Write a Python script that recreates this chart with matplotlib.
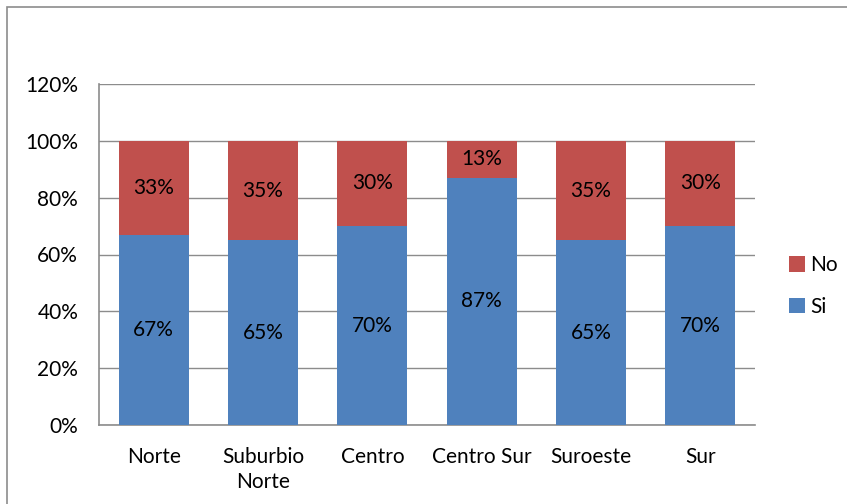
import matplotlib.pyplot as plt
from matplotlib.patches import Rectangle

plt.rcParams["font.family"] = ["Lato", "DejaVu Sans"]

regiones = ["Norte", "Suburbio\nNorte", "Centro", "Centro Sur", "Suroeste", "Sur"]
si = [67, 65, 70, 87, 65, 70]
no = [33, 35, 30, 13, 35, 30]

azul = "#4F81BD"
rojo = "#C0504D"
fs = 15

fig = plt.figure(figsize=(8.47, 5.04), dpi=100)
# marco del gráfico (cortado por la derecha y abajo)
fig.patches.append(Rectangle((7 / 847, -0.1), 1.2, 1 - 7 / 504 + 0.1,
                             transform=fig.transFigure, fill=False,
                             edgecolor="#8c8c8c", linewidth=1.2))

ax = fig.add_axes([99 / 847, 1 - 425 / 504, 656 / 847, 341 / 504])
x = range(len(regiones))
ax.bar(x, si, width=0.64, color=azul, label="Si", zorder=3)
ax.bar(x, no, width=0.64, bottom=si, color=rojo, label="No", zorder=3)

for i in x:
    ax.text(i, si[i] / 2, f"{si[i]}%", ha="center", va="center", fontsize=fs, zorder=4)
    ax.text(i, si[i] + no[i] / 2, f"{no[i]}%", ha="center", va="center", fontsize=fs, zorder=4)

ax.set_ylim(0, 120)
ax.set_xlim(-0.5, len(regiones) - 0.5)
ax.set_yticks(range(0, 121, 20))
ax.set_yticklabels([f"{t}%" for t in range(0, 121, 20)], fontsize=fs)
ax.set_xticks(list(x))
ax.set_xticklabels(regiones, fontsize=fs, linespacing=1.3, va="top")
ax.tick_params(length=0)
ax.tick_params(axis="x", pad=16)
ax.tick_params(axis="y", pad=15)
ax.grid(axis="y", color="#8c8c8c", linewidth=1, zorder=0)
for s in ["top", "right"]:
    ax.spines[s].set_visible(False)
for s in ["left", "bottom"]:
    ax.spines[s].set_color("#8c8c8c")
    ax.spines[s].set_linewidth(1.2)

h, l = ax.get_legend_handles_labels()
fig.legend(h[::-1], l[::-1], loc="center left", bbox_to_anchor=(789 / 847, 1 - 286 / 504),
           frameon=False, fontsize=fs, handlelength=0.77, handleheight=0.77,
           labelspacing=1.05, handletextpad=0.25, borderpad=0, borderaxespad=0)

fig.savefig("out.png", dpi=100)
